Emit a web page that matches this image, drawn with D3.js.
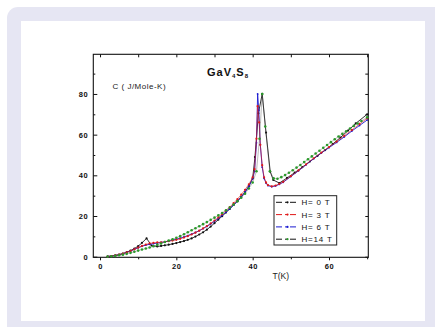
<!DOCTYPE html>
<html>
<head>
<meta charset="utf-8">
<script src="https://cdn.jsdelivr.net/npm/d3@7"></script>
<style>
  html, body { margin: 0; padding: 0; background: #fff; }
  svg { display: block; }
</style>
</head>
<body>
<svg id="chart" width="435" height="327"></svg>
<script>
// H = 0 T
const t0 = [2,3,4,5,6,7,8,9,10,11,12.2,13.5,15,16,17,18,19,20,21,22,23,24,25,26,27,28,29,30,31,32,33,34,35,36,37,38,39,40,40.6,41.5,42.5,43.5,44.6,45.4,47,49,51,53,55,57,59,61,63,65,67,70];
const c0 = [0.1,0.3,0.6,1.0,1.5,2.2,3.0,4.0,5.2,6.8,9.0,5.5,5.0,5.3,5.6,5.9,6.3,6.7,7.2,7.7,8.3,9.0,9.9,10.9,12.0,13.3,14.8,16.5,18.2,19.9,21.7,23.5,25.4,27.3,29.4,31.8,34.6,38.5,49,70.5,80,61,41.8,37.7,36.2,38.7,41.3,44,46.8,49.6,52.4,55.4,58.6,62,65.5,70];
// H = 3 T
const t3 = [2,3,4,5,6,7,8,9,10,11,12,13,14,15,16,17,18,19,20,21,22,23,24,25,26,27,28,29,30,31,32,33,34,35,36,37,38,39,40,40.5,41,41.3,41.7,42,42.5,43,43.5,44,45,46,47,48,50,52,54,56,58,60,62,64,66,68,70];
const c3 = [0.1,0.3,0.6,1.0,1.5,2.1,2.8,3.6,4.5,5.3,6.0,6.5,6.8,7.0,7.1,7.3,7.6,7.9,8.3,8.8,9.4,10.1,10.9,11.8,12.8,13.9,15.1,16.4,17.8,19.3,20.9,22.6,24.4,26.3,28.3,30.5,32.9,35.6,39,43,58,74,66,55,45,39,36.5,35.2,34.6,35,35.8,36.8,39.6,42.4,45.4,48.4,51.2,53.9,56.6,59.4,62.3,65.2,68];
// H = 6 T
const t6 = [2,3,4,5,6,7,8,9,10,11,12,13,14,15,16,17,18,19,20,21,22,23,24,25,26,27,28,29,30,31,32,33,34,35,36,37,38,39,40,40.5,41,41.3,41.6,42,42.5,43,43.5,44,45,46,47,48,50,52,54,56,58,60,62,64,66,68,70];
const c6 = [0.1,0.3,0.6,1.0,1.5,2.1,2.8,3.6,4.4,5.1,5.7,6.1,6.4,6.7,7.0,7.3,7.7,8.1,8.6,9.1,9.7,10.4,11.1,11.9,12.8,13.8,14.9,16.1,17.4,18.8,20.3,21.9,23.6,25.4,27.3,29.4,31.8,34.6,38.5,42,56,80,72,55,44,38.5,36.2,35,34.4,34.8,35.6,36.6,39.4,42.2,45.2,48.2,51,53.6,56.2,58.9,61.8,64.5,67.2];
// H = 14 T
const t14 = [2,3,4,5,6,7,8,9,10,11,12,13,14,15,16,17,18,19,20,21,22,23,24,25,26,27,28,29,30,31,32,33,34,35,36,37,38,39,40,41,41.8,42.5,43.3,44.5,45.5,46.5,47.5,48.5,49.5,50.5,51.5,52.5,53.5,54.5,55.5,56.5,57.5,58.5,59.5,60.5,61.5,62.5,63.5,64.5,65.5,66.5,67.5,68.5,70];
const c14 = [0.1,0.2,0.4,0.7,1.0,1.4,1.9,2.4,3.0,3.5,4.0,4.5,5.1,5.8,6.5,7.2,7.9,8.6,9.3,10.1,11,12,13,14,15,16,17,18.1,19.2,20.3,21.5,22.8,24.2,25.6,27.2,29,31,33.5,36.5,42,58,80,64,42,38.5,38.3,39.1,40.1,41.3,42.5,43.8,45.1,46.5,47.9,49.3,50.7,52.1,53.5,54.9,56.3,57.7,59.1,60.4,61.7,63,64.3,65.5,66.7,68.5];

const xTicks = [0, 20, 40, 60];
const yTicks = [0, 20, 40, 60, 80];
const legendLabels = ["H= 0 T", "H= 3 T", "H= 6 T", "H=14 T"];

const series = [
  { t: t0, c: c0, line: "#111", dot: "#111", op: 0.85, w: 1, r: 1.1 },
  { t: t6, c: c6, line: "#1a1ad0", dot: "#1a1ad0", op: 0.9, w: 1, r: 0.9 },
  { t: t3, c: c3, line: "#e01818", dot: "#e01818", op: 0.6, w: 1, r: 1.1 },
  { t: t14, c: c14, line: "#444", dot: "#2a9a2a", op: 0.45, w: 0.8, r: 1.3 }
];
// legend order: 0 T, 3 T, 6 T, 14 T
const legendSeries = [series[0], series[2], series[1], series[3]];

const svg = d3.select("#chart");

// lavender card + white panel
svg.append("rect").attr("x", 7).attr("y", 7).attr("width", 450).attr("height", 340)
  .attr("rx", 11).attr("fill", "#e6e6f3");
svg.append("rect").attr("x", 21).attr("y", 21).attr("width", 404).attr("height", 300)
  .attr("fill", "#fff");

const pl = 93.3, pr = 368.3, pt = 54.3, pb = 257.3;
const x = d3.scaleLinear().domain([-1.76, 70.3]).range([pl, pr]);
const y = d3.scaleLinear().domain([-0.3, 99.5]).range([pb, pt]);

const g = svg.append("g");

// minor ticks
const xMinor = d3.range(10, 71, 20);
const yMinor = d3.range(10, 100, 20);
g.append("g").attr("transform", `translate(0,${pb})`)
  .call(d3.axisBottom(x).tickValues(xMinor).tickSize(2).tickFormat(""))
  .call(a => a.select(".domain").remove());
g.append("g").attr("transform", `translate(0,${pt})`)
  .call(d3.axisBottom(x).tickValues(xTicks.concat(xMinor)).tickSize(3).tickFormat(""))
  .call(a => a.select(".domain").remove());
g.append("g").attr("transform", `translate(${pl},0)`)
  .call(d3.axisRight(y).tickValues(yMinor).tickSize(2).tickFormat(""))
  .call(a => a.select(".domain").remove());
g.append("g").attr("transform", `translate(${pr},0)`)
  .call(d3.axisLeft(y).tickValues(yTicks.concat(yMinor)).tickSize(3).tickFormat(""))
  .call(a => a.select(".domain").remove());

// main axes
const xAxis = g.append("g").attr("transform", `translate(0,${pb})`)
  .call(d3.axisBottom(x).tickValues(xTicks).tickSize(3).tickPadding(3))
  .call(a => a.select(".domain").remove());
const yAxis = g.append("g").attr("transform", `translate(${pl},0)`)
  .call(d3.axisLeft(y).tickValues(yTicks).tickSize(-4).tickPadding(5))
  .call(a => a.select(".domain").remove());

[xAxis, yAxis].forEach(a => {
  a.selectAll("text").attr("font-family", "Liberation Sans, Arial, sans-serif")
    .attr("font-size", 7.5).attr("font-weight", "bold").attr("letter-spacing", 0.6)
    .attr("fill", "#111");
});
g.selectAll(".tick line").attr("stroke", "#111");

// frame
g.append("rect").attr("x", pl).attr("y", pt)
  .attr("width", pr - pl).attr("height", pb - pt)
  .attr("fill", "none").attr("stroke", "#111").attr("stroke-width", 1.1);

// curves
const line = d3.line().x(d => x(d[0])).y(d => y(d[1]));
series.forEach(s => {
  const pts = s.t.map((t, i) => [t, s.c[i]]);
  g.append("path").datum(pts).attr("d", line)
    .attr("fill", "none").attr("stroke", s.line).attr("stroke-width", s.w)
    .attr("stroke-opacity", s.op);
  g.append("g").selectAll("circle").data(pts).join("circle")
    .attr("cx", d => x(d[0])).attr("cy", d => y(d[1]))
    .attr("r", s.r).attr("fill", s.dot);
});

// title
const title = g.append("text").attr("x", 207).attr("y", 76)
  .attr("font-family", "Liberation Sans, Arial, sans-serif")
  .attr("font-size", 11).attr("font-weight", "bold").attr("fill", "#111")
  .attr("letter-spacing", 1);
title.append("tspan").text("GaV");
title.append("tspan").attr("font-size", 6).attr("dy", 2).text("4");
title.append("tspan").attr("dy", -2).text("S");
title.append("tspan").attr("font-size", 6).attr("dy", 2).text("8");

// axis titles
g.append("text").attr("x", 112.5).attr("y", 89)
  .attr("font-family", "Liberation Sans, Arial, sans-serif").attr("font-size", 8)
  .attr("letter-spacing", 0.5).attr("fill", "#222").text("C (  J/Mole-K)");
g.append("text").attr("x", 272.5).attr("y", 278.5)
  .attr("font-family", "Liberation Sans, Arial, sans-serif").attr("font-size", 8.5)
  .attr("fill", "#222").text("T(K)");

// legend
const lg = g.append("g");
lg.append("rect").attr("x", 274).attr("y", 195.7).attr("width", 62.7).attr("height", 49.3)
  .attr("fill", "#fff").attr("stroke", "#222").attr("stroke-width", 1);
legendLabels.forEach((lab, i) => {
  const yy = 202.3 + i * 12.3;
  const s = legendSeries[i];
  lg.append("line").attr("x1", 276).attr("x2", 299).attr("y1", yy).attr("y2", yy)
    .attr("stroke", i === 3 ? "#111" : s.line).attr("stroke-width", 1)
    .attr("stroke-dasharray", "6,3,2,3,6");
  lg.append("circle").attr("cx", 287.5).attr("cy", yy).attr("r", 1.1).attr("fill", s.dot);
  lg.append("text").attr("x", 301.5).attr("y", yy + 3)
    .attr("font-family", "Liberation Sans, Arial, sans-serif").attr("font-size", 8)
    .attr("letter-spacing", 0.8).attr("fill", "#111").text(lab);
});
</script>
</body>
</html>
